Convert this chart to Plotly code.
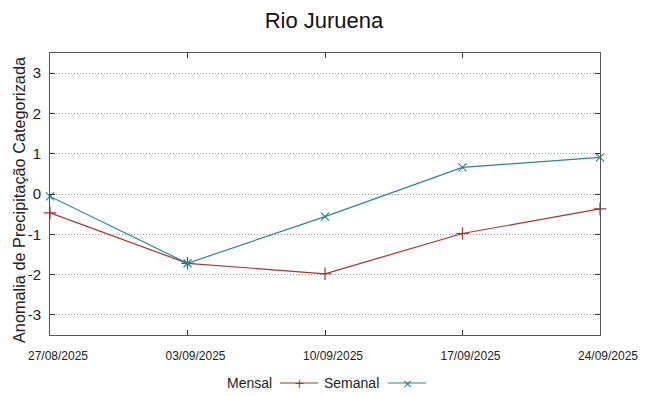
import plotly.graph_objects as go

dates = ["2025-08-27", "2025-09-03", "2025-09-10", "2025-09-17", "2025-09-24"]
tick_labels = ["27/08/2025", "03/09/2025", "10/09/2025", "17/09/2025", "24/09/2025"]
y_ticks = [-3, -2, -1, 0, 1, 2, 3]
y_tick_labels = ["-3", "-2", "-1", "0", "1", "2", "3"]
mensal = [-0.47, -1.72, -1.98, -0.98, -0.37]
semanal = [-0.06, -1.72, -0.56, 0.66, 0.91]

RED = "#a83232"
TEAL = "#27878a"
W, H = 648, 396
L, R, T, B = 50, 48, 53, 61

fig = go.Figure()
fig.add_trace(go.Scatter(x=dates, y=mensal, mode="lines+markers", name="Mensal",
                         line=dict(color=RED, width=1.2),
                         marker=dict(symbol="cross-thin", size=9, line=dict(color=RED, width=1.2)),
                         cliponaxis=False, showlegend=False))
fig.add_trace(go.Scatter(x=dates, y=semanal, mode="lines+markers", name="Semanal",
                         line=dict(color=TEAL, width=1.2),
                         marker=dict(symbol="x-thin", size=8, line=dict(color=TEAL, width=1.2)),
                         cliponaxis=False, showlegend=False))

pw = W - L - R
ph = H - T - B
def px(x):
    return (x - L) / pw
def py(y):
    return (H - B - y) / ph

shapes = []
annotations = []
ly = py(383)
# legend entries: text then sample
for name, color, text_right, x0, x1, glyph, gsize in [
    ("Mensal", RED, 274, 280, 318, "+", 13),
    ("Semanal", TEAL, 381, 388, 426, "×", 13),
]:
    annotations.append(dict(x=px(text_right), y=ly, xref="paper", yref="paper", text=name,
                            showarrow=False, xanchor="right", yanchor="middle",
                            font=dict(family="Liberation Sans, Arial", size=14, color="#222")))
    shapes.append(dict(type="line", xref="paper", yref="paper", x0=px(x0), x1=px(x1), y0=ly, y1=ly,
                       line=dict(color=color, width=1.2)))
    annotations.append(dict(x=px((x0 + x1) / 2), y=ly, xref="paper", yref="paper", text=glyph,
                            showarrow=False, xanchor="center", yanchor="middle",
                            font=dict(family="DejaVu Sans", size=gsize, color=color)))

# y-axis title
annotations.append(dict(x=px(19), y=py(200), xref="paper", yref="paper",
                        text="Anomalia de Precipitação Categorizada", textangle=-90,
                        showarrow=False, xanchor="center", yanchor="middle",
                        font=dict(family="Liberation Sans, Arial", size=16.3, color="#222")))

fig.update_layout(
    width=W, height=H,
    margin=dict(l=L, r=R, t=T, b=B, autoexpand=False),
    paper_bgcolor="white", plot_bgcolor="white",
    title=dict(text="Rio Juruena", x=0.5, xanchor="center", y=1 - 20 / H, yanchor="middle",
               automargin=False,
               font=dict(family="Liberation Sans, Arial", size=22, color="#111")),
    font=dict(family="Liberation Sans, Arial", color="#222"),
    shapes=shapes, annotations=annotations,
    showlegend=False,
)
fig.update_xaxes(type="date", range=[dates[0], dates[-1]], tickvals=dates, ticktext=tick_labels,
                 automargin=False,
                 showgrid=False, zeroline=False, showline=True, linecolor="#555", linewidth=1,
                 mirror="ticks", ticks="inside", ticklen=5, tickcolor="#333",
                 tickfont=dict(size=12, family="Liberation Sans, Arial"),
                 ticklabelstandoff=10, ticklabelshift=8)
fig.update_yaxes(range=[-3.5, 3.5], tickvals=y_ticks, ticktext=y_tick_labels,
                 automargin=False,
                 showgrid=True, gridcolor="#9a9a9a", griddash="1px,2px", gridwidth=1,
                 zeroline=False, showline=True, linecolor="#555", linewidth=1,
                 mirror="ticks", ticks="inside", ticklen=5, tickcolor="#333",
                 tickfont=dict(size=15), ticklabelstandoff=5)

fig.write_html("out.html", config={"displayModeBar": False},
               post_script="document.body.style.margin='0';document.body.style.padding='0';")
